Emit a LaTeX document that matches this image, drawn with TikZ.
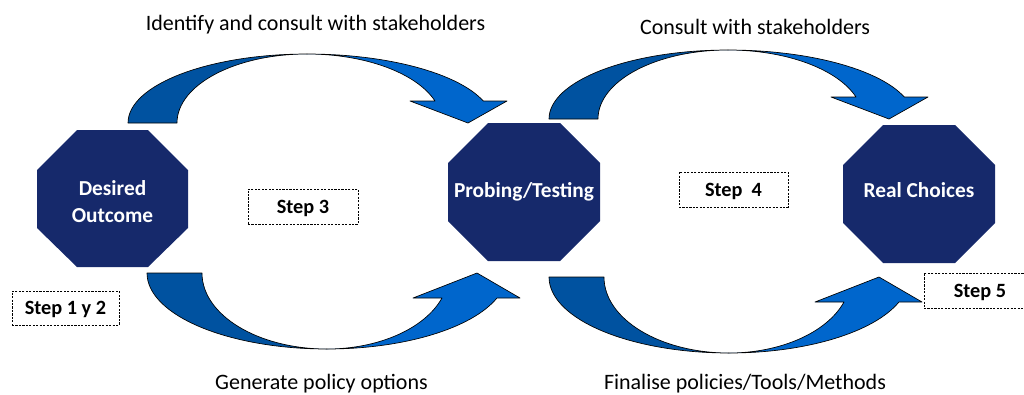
\documentclass[tikz,border=0pt]{standalone}
\usepackage{fontspec}
\setmainfont{Carlito}
\definecolor{navy}{RGB}{22,41,107}
\definecolor{arrdark}{RGB}{0,82,160}
\definecolor{arrlight}{RGB}{0,102,204}
\begin{document}
\begin{tikzpicture}[x=0.75pt,y=-0.75pt,
  octo/.style={fill=navy, draw=none},
  octolabel/.style={text=white, font=\fontsize{16}{19}\selectfont\bfseries, align=center, inner sep=0pt},
  caption/.style={font=\fontsize{16.5}{20}\selectfont, inner sep=0pt, anchor=base},
  stepbox/.style={draw=black, fill=white, line width=0.6pt, dash pattern=on 1.6pt off 1pt,
     font=\fontsize{15.2}{17}\selectfont\bfseries, text depth=0pt, inner sep=0pt},
  darkpart/.style={fill=arrdark, draw=black, line width=0.5pt, line join=round},
  lightpart/.style={fill=arrlight, draw=black, line width=0.5pt, line join=round}]
\useasboundingbox (0,0) rectangle (1024,394);

% ---- curved arrows (top) ----
\foreach \dx/\dy in {0/0, 421/-4}{
\begin{scope}[shift={(\dx,\dy)}]
  \path[darkpart] (128,123) arc[start angle=180, end angle=270, x radius=179, y radius=69]
        arc[start angle=270, end angle=180, x radius=130, y radius=69] -- cycle;
  \path[lightpart] (307,54) arc[start angle=270, end angle=341.4, x radius=186, y radius=69]
        -- (507,101) -- (468,123) -- (410,101) -- (435,101)
        arc[start angle=341.4, end angle=270, x radius=135, y radius=69] -- cycle;
\end{scope}}

% ---- curved arrows (bottom) ----
\foreach \dx/\dy in {0/0, 402/4}{
\begin{scope}[shift={(\dx,\dy)}]
  \path[darkpart] (147,273) arc[start angle=180, end angle=90, x radius=180, y radius=76]
        arc[start angle=90, end angle=180, x radius=125, y radius=76] -- cycle;
  \path[lightpart] (327,349) arc[start angle=90, end angle=19.2, x radius=180, y radius=76]
        -- (520,298) -- (477,273) -- (413,298) -- (442,298)
        arc[start angle=19.2, end angle=90, x radius=122, y radius=76] -- cycle;
\end{scope}}

% ---- octagons ----
\path[octo] (37,170) -- (77,130) -- (148,130) -- (188,170) -- (188,228) -- (148,267) -- (77,267) -- (37,228) -- cycle;
\path[octo] (448,163) -- (488,123) -- (560,123) -- (600,163) -- (600,221) -- (560,261) -- (488,261) -- (448,221) -- cycle;
\path[octo] (843,165) -- (883,125) -- (955,125) -- (995,165) -- (995,223) -- (955,263) -- (883,263) -- (843,223) -- cycle;

\node[octolabel] (desired) at (112.5,201.5) {Desired\\[1pt]Outcome};
\node[octolabel, anchor=base] (probing) at (524,197) {Probing/Testing};
\node[octolabel, anchor=base] (real) at (919,197) {Real Choices};

% ---- step boxes ----
\node[stepbox, minimum width=80.25pt, minimum height=25.5pt] (s12) at (65.5,308) {Step 1 y 2};
\node[stepbox, minimum width=82.5pt, minimum height=26.25pt] (s3) at (303,206.5) {Step 3};
\node[stepbox, minimum width=81.75pt, minimum height=26.25pt] (s4) at (733.5,189.5) {Step\hspace{0.45em}4};
\node[stepbox, minimum width=84pt, minimum height=26.25pt] (s5) at (980,290.5) {Step 5};

% ---- captions ----
\node[caption] (c1) at (315.5,30) {Identify and consult with stakeholders};
\node[caption] (c2) at (755,34) {Consult with stakeholders};
\node[caption] (c3) at (321.5,389) {Generate policy options};
\node[caption] (c4) at (745,389) {Finalise policies/Tools/Methods};
\end{tikzpicture}
\end{document}
